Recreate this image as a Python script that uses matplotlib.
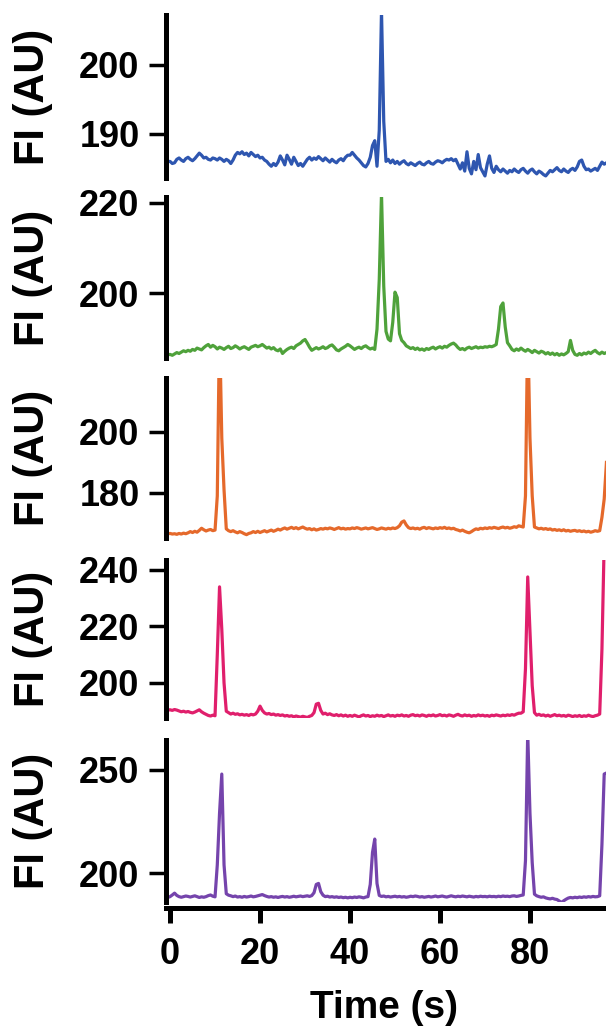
"""Stacked fluorescence traces, one panel per cell."""
import matplotlib
matplotlib.use('Agg')  # no display
import matplotlib.pyplot as plt
import numpy as np

plt.rcParams['font.family'] = ['Liberation Sans', 'DejaVu Sans']
plt.rcParams['font.weight'] = 'bold'

# sample times (s), one reading every 0.5 s
time_s = np.arange(-1.0, 97.01, 0.5)

# fluorescence intensity (AU) for each trace, rows of 10 s
fi_blue = [
    186.3, 186.0,
    186.0, 185.7, 185.8, 186.3, 186.5, 186.2, 186.0, 186.4, 186.6, 186.3, 186.1, 186.4, 186.8, 187.2, 186.9, 186.5, 186.6, 186.3, 186.2, 186.5,
    186.4, 186.2, 186.5, 186.3, 186.0, 186.3, 186.1, 185.7, 186.2, 186.9, 187.3, 187.1, 187.4, 187.0, 187.2, 186.8, 187.3, 187.0, 186.7, 186.9,
    186.5, 186.6, 186.2, 186.0, 185.6, 185.3, 185.7, 185.4, 185.9, 186.8, 186.2, 185.5, 186.9, 186.3, 185.6, 186.6, 186.0, 185.4, 185.7, 185.3,
    185.8, 186.3, 186.6, 186.2, 186.5, 186.3, 186.7, 186.4, 186.1, 186.5, 186.2, 185.9, 186.3, 186.0, 185.8, 186.2, 186.4, 186.1, 186.6, 186.9,
    186.9, 187.3, 186.9, 186.5, 186.2, 185.8, 185.4, 185.2, 185.7, 186.6, 188.3, 189.0, 185.3, 190.5, 207.8, 191.8, 186.0, 186.3, 185.8, 186.2,
    185.7, 186.0, 185.6, 185.9, 186.1, 185.7, 185.5, 185.8, 185.6, 185.4, 185.7, 185.9, 185.6, 185.5, 185.8, 186.0, 185.7, 185.6, 185.9, 186.1,
    186.0, 185.8, 186.1, 186.3, 186.2, 186.4, 186.1, 186.3, 185.6, 184.9, 185.8, 184.6, 187.4, 185.0, 184.2, 186.0, 184.8, 187.0, 185.1, 184.5,
    183.9, 185.6, 186.8, 185.0, 184.4, 185.3, 184.8, 184.5, 184.9, 184.6, 184.3, 184.7, 184.5, 184.9, 184.6, 184.4, 184.8, 185.0, 184.6, 184.3,
    184.7, 184.9, 184.5, 184.2, 184.6, 184.4, 184.1, 183.9, 184.3, 184.7, 184.5, 184.8, 185.1, 184.7, 184.5, 184.9, 184.6, 184.4, 184.8, 185.0,
    184.7, 185.2, 186.0, 186.2, 185.3, 184.8, 184.9, 184.6, 184.8, 185.0, 184.7, 185.3, 185.9, 185.6, 185.8,
]
fi_green = [
    186.6, 186.3,
    186.4, 186.2, 186.5, 186.8, 186.6, 186.9, 187.2, 187.0, 187.3, 187.1, 187.5, 187.3, 187.8, 187.6, 187.4, 187.9, 188.3, 188.6, 188.0, 188.4,
    188.1, 187.6, 188.0, 187.8, 187.5, 187.9, 188.2, 187.7, 187.9, 188.3, 188.0, 187.6, 187.9, 188.1, 187.8, 187.5, 188.0, 188.2, 188.4, 188.1,
    188.3, 188.6, 188.2, 187.8, 188.0, 187.6, 187.9, 187.4, 187.2, 187.6, 186.6, 187.1, 187.5, 187.8, 188.0, 187.7, 188.3, 188.6, 188.9, 189.4,
    189.7, 188.9, 188.0, 187.3, 187.6, 187.9, 187.6, 187.8, 188.1, 187.7, 187.9, 188.3, 188.5, 188.0, 187.4, 187.2, 187.6, 187.9, 188.2, 188.6,
    188.3, 187.9, 187.5, 187.8, 188.0, 187.7, 188.1, 188.3, 187.9, 187.6, 187.8, 187.5, 192.0, 203.0, 222.0, 201.5, 191.5, 189.8, 189.4, 193.5,
    200.2, 199.0, 191.0, 189.5, 189.0, 188.3, 188.0, 187.7, 187.9, 187.5, 187.8, 187.4, 187.6, 187.3, 187.7, 187.5, 187.8, 188.0, 187.6, 187.9,
    188.1, 187.8, 188.2, 188.0, 188.4, 188.7, 188.9, 188.5, 187.9, 187.5, 187.7, 187.4, 187.8, 188.0, 187.7, 187.9, 188.1, 187.8, 188.0, 187.9,
    188.1, 188.0, 188.2, 188.1, 188.3, 188.6, 192.0, 197.0, 197.8, 192.5, 189.0, 188.3, 187.5, 187.2, 187.6, 187.3, 187.8, 187.4, 187.1, 187.5,
    187.2, 186.8, 187.3, 187.0, 186.7, 187.1, 186.9, 186.5, 186.8, 186.4, 186.7, 186.3, 186.6, 186.2, 186.5, 186.3, 186.6, 187.0, 189.5, 187.3,
    186.4, 186.2, 186.6, 186.3, 186.7, 186.5, 186.9, 186.6, 187.0, 187.3, 186.8, 186.5, 186.9, 186.6, 186.8,
]
fi_orange = [
    166.9, 166.6,
    166.7, 166.5, 166.6, 166.4, 166.7, 166.5, 166.8, 166.6, 166.9, 167.3, 167.0, 167.4, 167.1, 167.7, 168.4, 167.9, 167.5, 167.8, 168.0, 167.6,
    167.8, 179.0, 235.0, 198.0, 181.0, 168.2, 167.6, 167.3, 167.6, 167.2, 166.9, 167.3, 167.0, 166.6, 166.3, 166.7, 166.9, 167.3, 167.0, 167.4,
    167.0, 167.3, 167.6, 167.2, 167.5, 167.8, 167.4, 167.7, 168.1, 167.8, 168.2, 168.5, 168.1, 168.4, 168.7, 168.3, 168.6, 168.2, 168.5, 168.8,
    168.4, 168.1, 168.3, 167.9, 168.2, 167.8, 168.0, 168.3, 168.1, 168.4, 168.2, 168.5, 168.3, 168.0, 168.3, 168.6, 168.2, 168.4, 168.1, 168.3,
    168.2, 168.5, 168.3, 168.6, 168.4, 168.1, 168.3, 168.5, 168.2, 168.4, 168.6, 168.3, 168.0, 168.2, 168.5, 168.3, 168.1, 168.4, 168.2, 168.5,
    168.3, 168.6, 169.2, 170.4, 170.8, 169.5, 168.6, 168.3, 168.5, 168.2, 168.4, 168.1, 168.5, 168.7, 168.3, 168.6, 168.4, 168.2, 168.5, 168.3,
    168.6, 168.4, 168.7, 168.3, 168.5, 168.2, 168.4, 168.0, 167.8, 167.5, 167.8, 167.4, 167.1, 166.9, 167.3, 167.8, 168.2, 168.0, 168.4, 168.2,
    168.5, 168.3, 168.6, 168.4, 168.7, 168.5, 168.3, 168.6, 168.8, 168.5, 168.7, 168.4, 168.6, 168.9, 168.7, 169.2, 169.0, 168.8, 179.0, 235.0,
    198.0, 179.0, 168.8, 168.5, 168.2, 168.4, 168.1, 168.3, 168.0, 168.2, 167.8, 168.0, 167.7, 167.9, 167.6, 167.9, 167.5, 167.7, 167.4, 167.6,
    167.7, 167.4, 167.6, 167.3, 167.5, 167.2, 167.4, 167.1, 167.3, 167.6, 167.4, 167.6, 172.0, 178.0, 190.0,
]
fi_pink = [
    190.6, 190.4,
    190.5, 190.3, 190.6, 190.4, 190.1, 189.8, 190.0, 189.7, 189.9, 189.6, 189.4, 189.7, 190.1, 190.5, 189.8, 189.3, 188.9, 188.5, 188.3, 188.6,
    188.4, 210.0, 234.0, 219.0, 200.0, 190.0, 189.5, 189.0, 189.3, 188.9, 189.1, 188.7, 188.9, 188.6, 188.8, 188.5, 188.9, 188.7, 189.0, 190.0,
    191.8, 190.3, 189.4, 189.0, 189.2, 188.8, 189.0, 188.6, 188.8, 188.5, 188.7, 188.3, 188.5, 188.2, 188.4, 188.0, 188.3, 188.1, 187.9, 188.2,
    188.0, 187.8, 188.2, 188.5, 189.5, 192.5, 192.8, 190.3, 189.0, 189.3, 188.8, 189.1, 188.7, 188.5, 188.8, 188.4, 188.7, 188.3, 188.6, 188.2,
    188.5, 188.2, 188.6, 188.3, 188.0, 188.4, 188.7, 188.3, 188.5, 188.1, 188.4, 188.2, 188.6, 188.3, 188.5, 188.1, 188.4, 188.7, 188.3, 188.5,
    188.2, 188.6, 188.4, 188.7, 188.3, 188.5, 188.2, 188.6, 188.8, 188.4, 188.6, 188.3, 188.7, 188.5, 188.2, 188.6, 188.4, 188.7, 188.3, 188.5,
    188.8, 188.4, 188.6, 188.3, 188.7, 188.5, 188.2, 188.6, 188.9, 188.5, 188.3, 188.7, 188.4, 188.6, 188.2, 188.5, 188.3, 188.7, 188.4, 188.6,
    188.3, 188.5, 188.2, 188.6, 188.4, 188.7, 188.5, 188.3, 188.6, 188.4, 188.7, 188.5, 188.8, 188.6, 189.0, 189.3, 189.3, 189.8, 205.0, 237.5,
    218.0, 199.0, 189.5, 188.6, 188.9, 188.5, 188.7, 188.3, 188.6, 188.2, 188.5, 188.8, 188.4, 188.6, 188.3, 188.5, 188.2, 188.6, 188.4, 188.1,
    188.4, 188.2, 188.5, 188.1, 188.4, 188.2, 188.6, 188.3, 188.1, 188.4, 188.6, 189.0, 212.0, 250.0, 255.0,
]
fi_purple = [
    187.9, 188.2,
    188.6, 189.4, 190.3, 189.2, 188.6, 188.3, 188.6, 188.9, 188.7, 188.4, 188.7, 189.0, 188.6, 188.2, 188.5, 188.3, 188.6, 189.1, 189.4, 188.8,
    188.5, 204.0, 229.0, 248.0, 204.0, 190.0, 189.3, 189.0, 188.6, 188.9, 188.4, 188.6, 188.3, 188.7, 188.4, 188.6, 188.9, 188.5, 188.7, 189.0,
    189.3, 189.6, 189.1, 188.7, 188.4, 188.6, 188.3, 188.5, 188.2, 188.5, 188.7, 188.4, 188.6, 188.3, 188.5, 188.8, 188.5, 188.7, 188.9, 188.6,
    188.8, 189.0, 188.7, 189.1, 190.5, 194.5, 195.0, 191.0, 189.3, 188.6, 188.8, 188.4, 188.6, 188.3, 188.5, 188.2, 188.4, 188.1, 188.3, 188.0,
    188.3, 188.1, 188.4, 188.2, 188.5, 188.3, 188.0, 188.4, 188.6, 194.5, 210.0, 216.5, 195.0, 189.2, 188.7, 188.9, 188.5, 188.7, 188.4, 188.6,
    188.8, 188.5, 188.7, 188.4, 188.6, 188.3, 188.5, 188.8, 188.6, 188.9, 188.7, 188.4, 188.6, 188.3, 188.5, 188.7, 188.4, 188.6, 188.9, 188.5,
    188.7, 188.9, 188.6, 188.4, 188.7, 189.0, 188.7, 188.5, 188.8, 188.6, 188.9, 188.7, 188.5, 188.8, 188.6, 188.4, 188.7, 188.5, 188.8, 188.6,
    188.7, 188.5, 188.8, 188.6, 188.7, 188.5, 188.8, 188.6, 188.9, 188.7, 188.8, 188.6, 188.9, 189.0, 188.7, 188.9, 189.2, 189.4, 206.0, 268.0,
    229.0, 205.0, 189.8, 189.0, 188.6, 188.3, 188.5, 188.0, 187.7, 187.5, 187.8, 187.4, 187.2, 186.5, 185.8, 186.6, 187.3, 187.9, 188.2, 188.0,
    188.3, 188.1, 188.4, 188.2, 188.5, 188.3, 188.6, 188.4, 188.7, 188.5, 188.6, 189.0, 214.0, 248.0, 248.5,
]

traces = [fi_blue, fi_green, fi_orange, fi_pink, fi_purple]
colors = ['#2E56B0', '#4FA23B', '#E5692B', '#E01F6C', '#7544AC']
y_limits = [(183.6, 207.2), (185.6, 221.3), (165.2, 217.7), (187.6, 243.5), (186.0, 264.5)]
y_ticks = [[190, 200], [200, 220], [180, 200], [200, 220, 240], [200, 250]]
x_ticks = [0, 20, 40, 60, 80]

# panel boxes in pixels (top, bottom) on a 606 x 1028 canvas
W, H = 606, 1028
panel_px = [(15, 178), (197, 358), (378, 538), (560, 718), (740, 902)]
left_px = 166

fig = plt.figure(figsize=(W / 100, H / 100), dpi=100)

for idx, (values, color) in enumerate(zip(traces, colors)):
    top, bottom = panel_px[idx]
    ax = fig.add_axes([left_px / W, 1 - bottom / H, (W - left_px) / W, (bottom - top) / H])
    ax.plot(time_s, values, color=color, linewidth=2.3)

    ax.set_xlim(-0.9, 96.9)
    ax.set_ylim(*y_limits[idx])
    ax.set_yticks(y_ticks[idx])

    # only the left spine, thick black
    for side in ['top', 'right', 'bottom']:
        ax.spines[side].set_visible(False)
    ax.spines['left'].set_linewidth(3.6)
    ax.tick_params(axis='y', length=12, width=2.5, pad=7, labelsize=26)

    last = idx == len(traces) - 1
    if last:
        ax.spines['bottom'].set_visible(True)
        ax.spines['bottom'].set_linewidth(3.6)
        ax.spines['bottom'].set_position(('outward', 4.5))
        ax.set_xticks(x_ticks)
        ax.tick_params(axis='x', length=11, width=3.6, pad=10, labelsize=26)
    else:
        ax.set_xticks([])

    # y label centred on the panel
    fig.text(33 / W, 1 - (top + bottom) / 2 / H, 'FI (AU)', rotation=90,
             ha='center', va='center', fontsize=30, fontweight='bold')

fig.text(384 / W, 1 - 1008 / H, 'Time (s)', ha='center', va='center',
         fontsize=28, fontweight='bold')

plt.savefig('out.png', dpi=100)
plt.close(fig)
